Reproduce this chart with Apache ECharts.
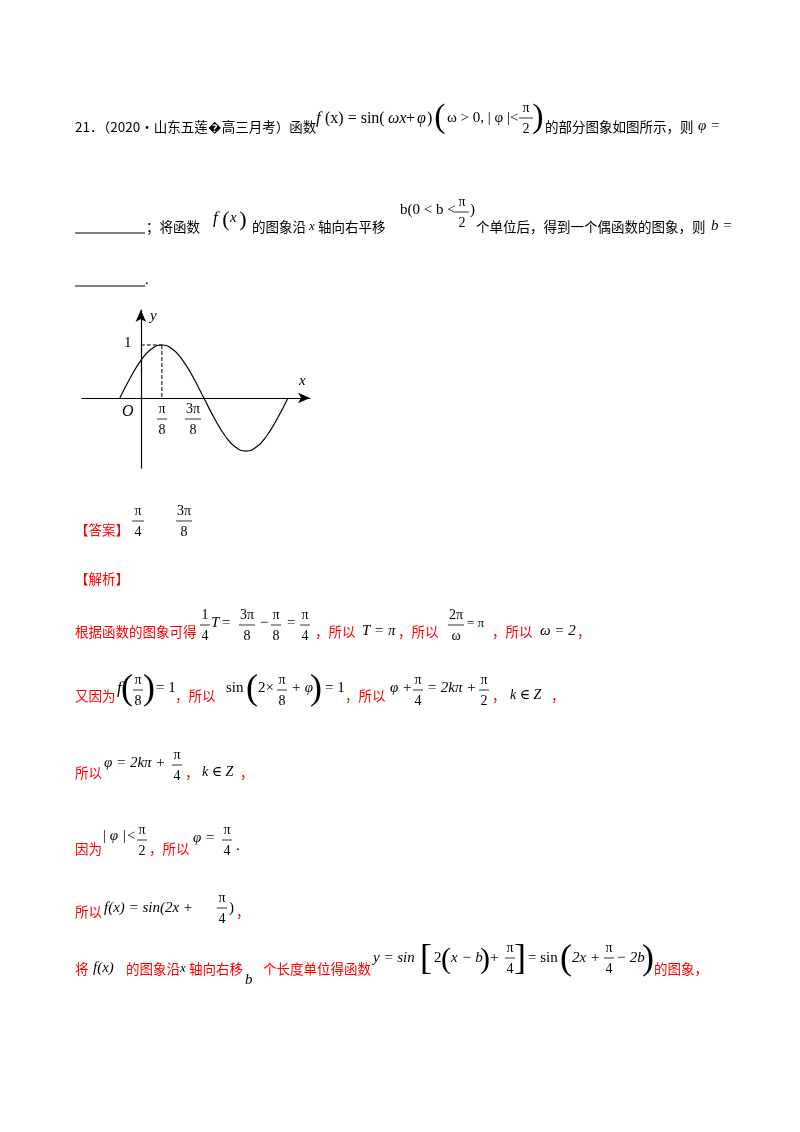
<!DOCTYPE html>
<html><head><meta charset="utf-8">
<script src="https://cdn.jsdelivr.net/npm/echarts@6/dist/echarts.min.js"></script>
<style>html,body{margin:0;background:#fff}#c{width:800px;height:1132px}</style>
</head><body><div id="c"></div>
<script>
// x in units of π/8, y = f(x)
const curveX = [-1,-0.5,0,0.5,1,1.5,2,2.5,3,3.5,4,4.5,5,5.5,6,6.5,7];
const curveY = [0,0.383,0.707,0.924,1,0.924,0.707,0.383,0,-0.383,-0.707,-0.924,-1,-0.924,-0.707,-0.383,0];
const peakX = 1, peakY = 1;
const tickLabels = [{x:1,num:'π',den:'8'},{x:2.5,num:'3π',den:'8'}];

const SERIF = '"Liberation Serif","DejaVu Serif",serif';
const CJK = '"Noto Sans CJK SC",sans-serif';
const RED = '#ff0000';
const g = [];
function t(x,y,s,o={}){g.push({type:'text',left:x,top:y-(o.size||15)*0.6,style:{text:s,fill:o.color||'#000',font:(o.italic?'italic ':'')+(o.size||15)+'px '+(o.cjk?CJK:SERIF),textAlign:o.align||'left'}});}
function cn(x,y,s,c){t(x,y,s,{cjk:true,size:13.5,color:c||'#000'});}
function frac(cx,y,n,d,w){w=w||14;
 g.push({type:'text',x:cx,y:y-10,style:{text:n,fill:'#000',font:'14px '+SERIF,textAlign:'center',textVerticalAlign:'middle'}});
 g.push({type:'line',shape:{x1:cx-w/2,y1:y,x2:cx+w/2,y2:y},style:{stroke:'#000',lineWidth:0.8}});
 g.push({type:'text',x:cx,y:y+11,style:{text:d,fill:'#000',font:'14px '+SERIF,textAlign:'center',textVerticalAlign:'middle'}});}
function big(x,y,s,h){g.push({type:'text',x:x,y:y,style:{text:s,fill:'#000',font:(h||34)+'px '+SERIF,textAlign:'center',textVerticalAlign:'middle'}});}

// line 1
cn(75,128,'21．（2020·山东五莲�高三月考）函数');
t(316,120,'f',{italic:true,size:17});t(325,120,'(x) = sin(',{size:16});t(388,120,'ωx',{italic:true,size:16});t(406,120,'+',{size:16});t(417,120,'φ',{italic:true,size:16});t(427,120,')',{size:16});
big(440,118,'(');t(447,120,'ω > 0, | φ |<',{size:15});frac(526,118,'π','2');big(538,118,')');
cn(545,128,'的部分图象如图所示，则');t(698,128,'φ =',{italic:true,size:15});
// line 2
g.push({type:'line',shape:{x1:75,y1:233,x2:145,y2:233},style:{stroke:'#000',lineWidth:1}});
cn(146,228,'；将函数');t(213,220,'f',{italic:true,size:17});big(226,220,'(',22);t(230,220,'x',{italic:true,size:15});big(243,220,')',22);
cn(252,228,'的图象沿');t(309,228,'x',{italic:true,size:13});cn(318,228,'轴向右平移');
t(400,212,'b(0 < b <',{size:15});frac(462,212,'π','2');t(470,212,')',{size:15});
cn(476,228,'个单位后，得到一个偶函数的图象，则');t(711,228,'b =',{italic:true,size:15});
g.push({type:'line',shape:{x1:75,y1:286,x2:145,y2:286},style:{stroke:'#000',lineWidth:1}});t(145,282,'.');
// graph labels
t(150,318,'y',{italic:true});t(299,383,'x',{italic:true});t(122,413,'O',{italic:true,size:16});t(124,345,'1',{size:15});
tickLabels.forEach((k,i)=>frac(i?193:162,419,k.num,k.den,i?16:10));
// answer
cn(75,531,'【答案】',RED);frac(138,521,'π','4',12);frac(184,521,'3π','8',16);
cn(75,580,'【解析】',RED);
// line a
cn(75,633,'根据函数的图象可得',RED);frac(205,625,'1','4',10);t(211,625,'T',{italic:true});t(222,625,'=');frac(247,625,'3π','8',16);t(260,625,'−');frac(276,625,'π','8',10);t(287,625,'=');frac(305,625,'π','4',10);
cn(315,633,'，所以',RED);t(362,633,'T = π',{italic:true});cn(398,633,'，所以',RED);frac(456,625,'2π','ω',16);t(467,625,'= π',{size:13});cn(492,633,'，所以',RED);t(540,633,'ω = 2',{italic:true});cn(577,633,'，',RED);
// line b
cn(75,697,'又因为',RED);t(117,690,'f',{italic:true,size:17});big(127,690,'(',36);frac(138,690,'π','8',10);big(149,690,')',36);t(156,690,'= 1');
cn(175,697,'，所以',RED);t(226,690,'sin');big(252,690,'(',36);t(258,690,'2×');frac(282,690,'π','8',10);t(291,690,'+ φ',{italic:true});big(316,690,')',36);t(325,690,'= 1');
cn(345,697,'，所以',RED);t(390,690,'φ +',{italic:true});frac(418,690,'π','4',10);t(427,690,'= 2kπ +',{italic:true});frac(484,690,'π','2',10);cn(492,697,'，',RED);t(510,697,'k ∈ Z',{italic:true,size:14});cn(551,697,'，',RED);
// line c
cn(75,774,'所以',RED);t(104,765,'φ = 2kπ +',{italic:true});frac(177,765,'π','4',10);cn(185,774,'，',RED);t(202,774,'k ∈ Z',{italic:true,size:14});cn(240,774,'，',RED);
// line d
cn(75,850,'因为',RED);t(102,838,'| φ |<',{italic:true});frac(142,840,'π','2',10);cn(149,850,'，所以',RED);t(193,840,'φ =',{italic:true});frac(227,840,'π','4',10);t(236,848,'.');
// line e
cn(75,913,'所以',RED);t(104,910,'f(x) = sin(2x +',{italic:true});frac(222,908,'π','4',10);t(229,910,')');cn(236,913,'，',RED);
// line f
cn(75,970,'将',RED);t(93,970,'f(x)',{italic:true});cn(126,970,'的图象沿',RED);t(180,970,'x',{italic:true,size:13});cn(189,970,'轴向右移',RED);t(245,982,'b',{italic:true});cn(263,970,'个长度单位得函数',RED);
t(373,960,'y = sin',{italic:true});big(426,960,'[',36);t(434,960,'2');big(446,960,'(',30);t(451,960,'x − b',{italic:true});big(485,960,')',30);t(490,960,'+');frac(510,958,'π','4',10);big(520,960,']',36);t(528,960,'= sin');big(566,960,'(',36);t(572,960,'2x +',{italic:true});frac(609,958,'π','4',10);t(616,960,'− 2b',{italic:true});big(648,960,')',36);
cn(654,970,'的图象，',RED);

const chart = echarts.init(document.getElementById('c'));
chart.setOption({
 animation:false,
 grid:{left:82,top:310,width:228,height:158},
 xAxis:{type:'value',min:-2.8,max:8.05,axisLine:{onZero:true,symbol:['none','arrow'],symbolSize:[8,12],lineStyle:{color:'#000',width:1.2}},axisTick:{show:false},axisLabel:{show:false},splitLine:{show:false}},
 yAxis:{type:'value',min:-1.32,max:1.66,axisLine:{onZero:true,symbol:['none','arrow'],symbolSize:[8,12],lineStyle:{color:'#000',width:1.2}},axisTick:{show:false},axisLabel:{show:false},splitLine:{show:false}},
 series:[
  {type:'line',smooth:true,symbol:'none',data:curveX.map((x,i)=>[x,curveY[i]]),lineStyle:{color:'#000',width:1.2}},
  {type:'line',symbol:'none',data:[[0,peakY],[peakX,peakY]],lineStyle:{color:'#000',width:1,type:'dashed'}},
  {type:'line',symbol:'none',data:[[peakX,peakY],[peakX,0]],lineStyle:{color:'#000',width:1,type:'dashed'}}
 ],
 graphic:g
});
</script></body></html>
